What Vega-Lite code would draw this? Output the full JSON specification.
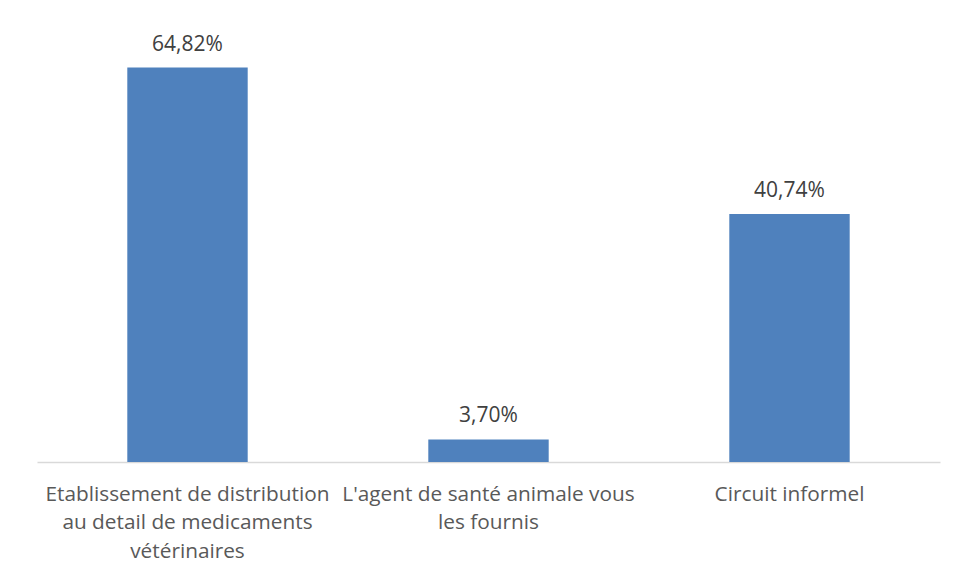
{
  "$schema": "https://vega.github.io/schema/vega-lite/v6.json",
  "autosize": "none",
  "width": 903,
  "height": 426,
  "padding": {"left": 37, "top": 36, "right": 15, "bottom": 113},
  "background": "white",
  "config": {"view": {"stroke": null}, "font": "Open Sans"},
  "data": {"values": [
    {"cat": "Etablissement de distribution|au detail de medicaments|vétérinaires", "value": 64.82, "label": "64,82%"},
    {"cat": "L'agent de santé animale vous|les fournis", "value": 3.70, "label": "3,70%"},
    {"cat": "Circuit informel", "value": 40.74, "label": "40,74%"}
  ]},
  "encoding": {
    "x": {"field": "cat", "type": "nominal", "sort": null,
      "scale": {"paddingInner": 0.6, "paddingOuter": 0.3},
      "axis": {"title": null, "labelAngle": 0, "ticks": false, "domainColor": "#d9d9d9", "domainWidth": 1.5,
        "labelExpr": "split(datum.label, '|')", "labelFontSize": 20.8, "labelColor": "#595959",
        "labelLineHeight": 28.5, "labelPadding": 22, "labelFont": "Open Sans", "labelLimit": 400}},
    "y": {"field": "value", "type": "quantitative", "scale": {"domain": [0, 70]}, "axis": null}
  },
  "layer": [
    {"mark": {"type": "bar", "color": "#4F81BD"}},
    {"mark": {"type": "text", "baseline": "bottom", "dy": -13, "fontSize": 21, "color": "#404040", "font": "Open Sans"},
     "encoding": {"text": {"field": "label"}}}
  ]
}
